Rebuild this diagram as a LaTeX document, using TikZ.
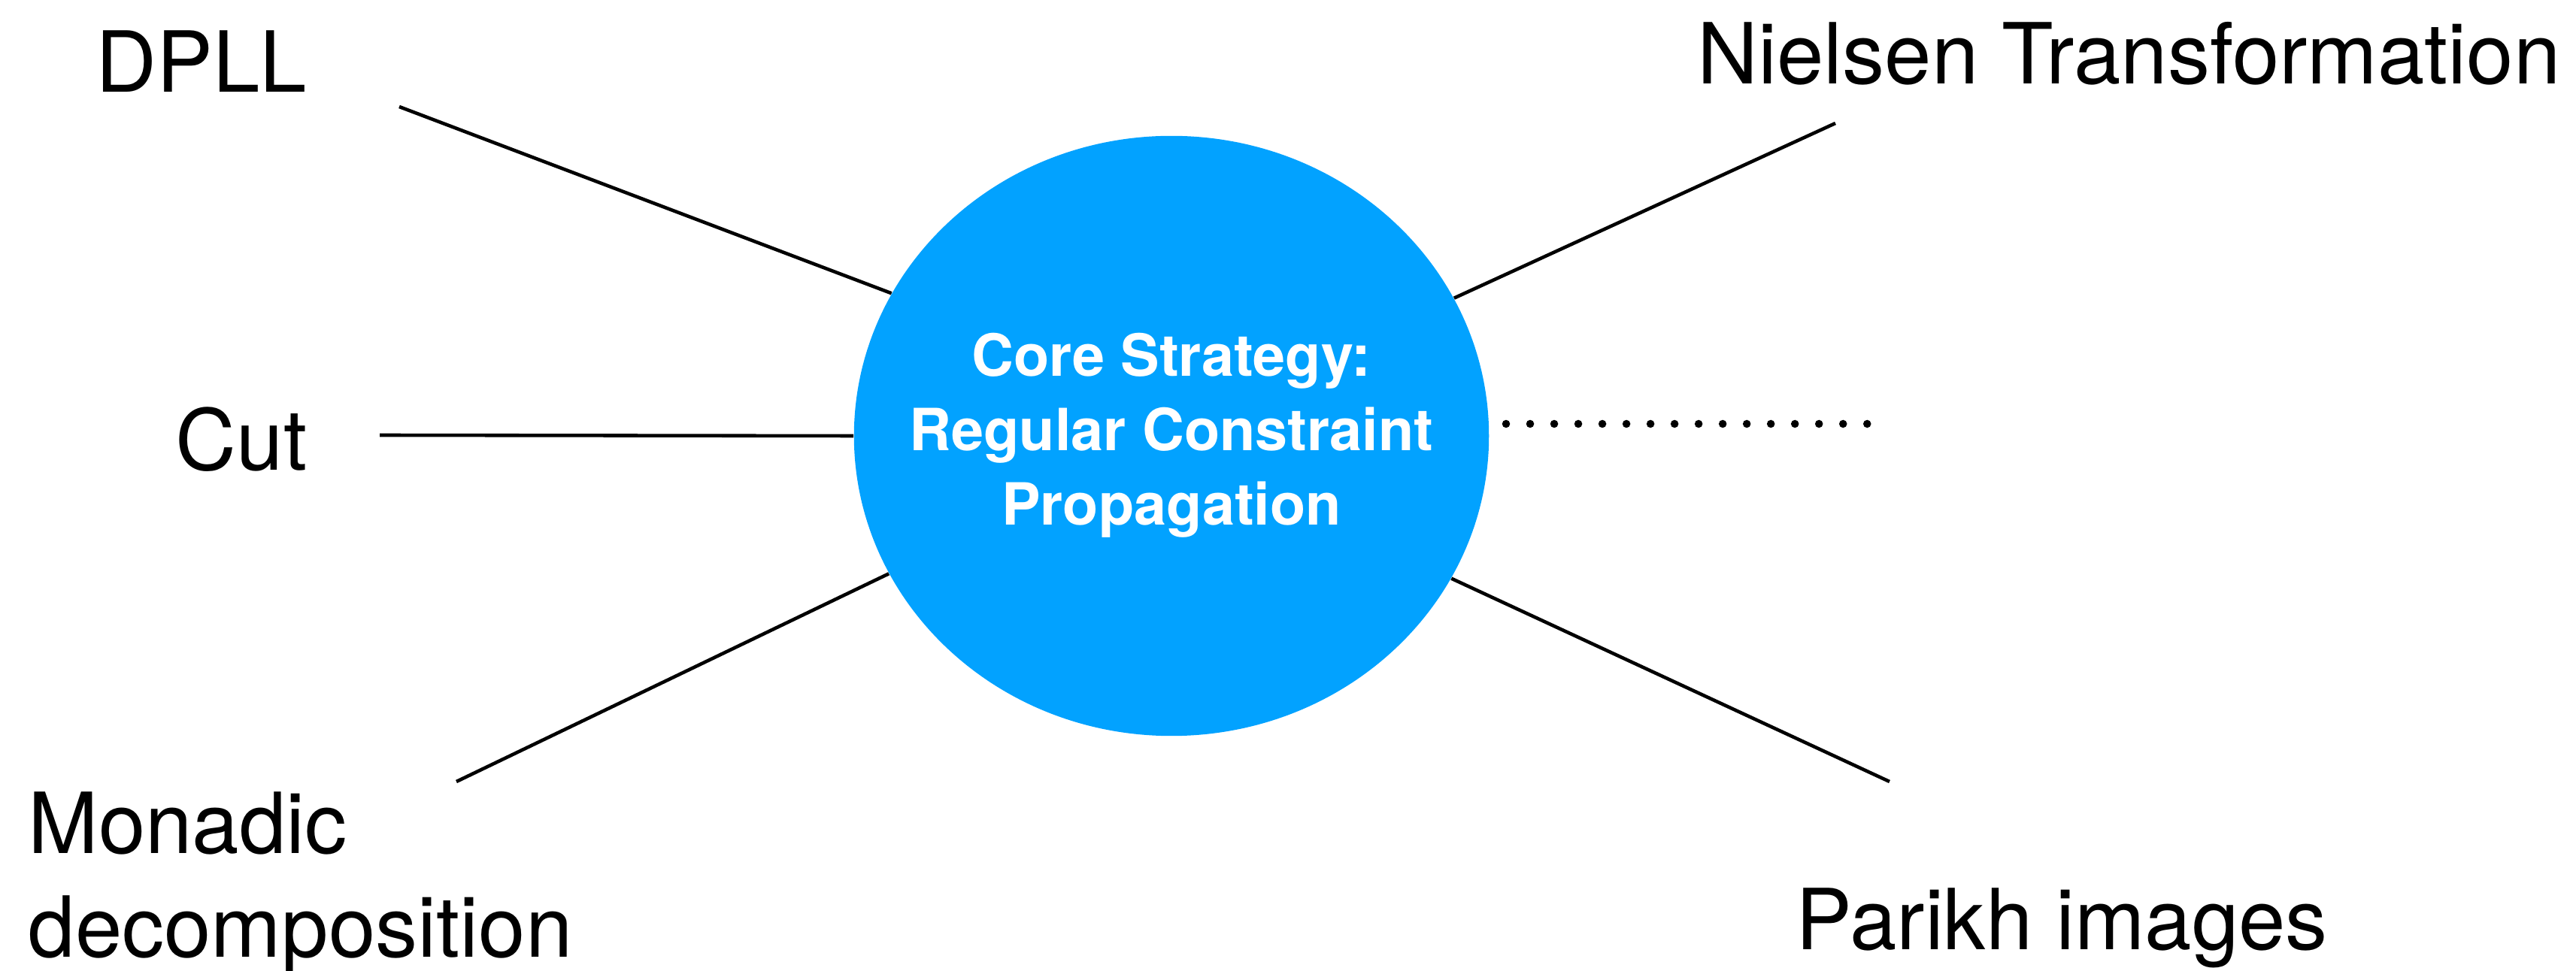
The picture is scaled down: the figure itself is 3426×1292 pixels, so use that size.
\documentclass[tikz,border=0pt]{standalone}
\usepackage{fontspec}
\setmainfont{TeX Gyre Heros}
\usetikzlibrary{shapes.geometric}
\definecolor{coreblue}{RGB}{2,162,255}
\begin{document}
\begin{tikzpicture}[x=0.01cm,y=-0.01cm,
  spoke/.style={line width=1.3pt},
  lbl/.style={inner sep=0pt, anchor=base west, font=\fontsize{31.9pt}{39.3pt}\selectfont},
  corenode/.style={ellipse, fill=coreblue, text=white, minimum width=8.44cm,
    minimum height=7.98cm, inner sep=0pt,
    font=\bfseries\fontsize{22pt}{28.2pt}\selectfont},
  dotrow/.style={line width=3pt, line cap=round, dash pattern=on 0pt off 9.104pt}]
\useasboundingbox (0,0) rectangle (3426,1292);

% central strategy (text kept in a zero-width box so the ellipse keeps its size)
\node[corenode] (core) at (1558,580)
  {\makebox[0pt]{\begin{tabular}{@{}c@{}}Core Strategy:\\Regular Constraint\\Propagation\end{tabular}}};

% surrounding techniques
\node[lbl] (dpll) at (127,123) {DPLL};
\node[lbl] (nielsen) at (2257,112) {Nielsen Transformation};
\node[lbl, anchor=base east] (cut) at (409,626) {Cut};
\node[lbl, align=left] (monadic) at (37,1274) {Monadic\\decomposition};
\node[lbl] (parikh) at (2388,1264) {Parikh images};

% free ends of the spokes
\coordinate (dpllEnd) at (531,142);
\coordinate (cutEnd) at (505,579);
\coordinate (monadicEnd) at (607,1040);
\coordinate (nielsenEnd) at (2441,164);
\coordinate (parikhEnd) at (2513,1040);
\coordinate (dotsStart) at (2003,564);
\coordinate (dotsEnd) at (2484,564);

\draw[spoke] (dpllEnd) -- (core.153.7);
\draw[spoke] (cutEnd) -- (core.180);
\draw[spoke] (monadicEnd) -- (core.206.3);
\draw[spoke] (nielsenEnd) -- (core.26.3);
\draw[spoke] (parikhEnd) -- (core.333.7);
\draw[dotrow] (dotsStart) -- (dotsEnd);
\end{tikzpicture}
\end{document}
